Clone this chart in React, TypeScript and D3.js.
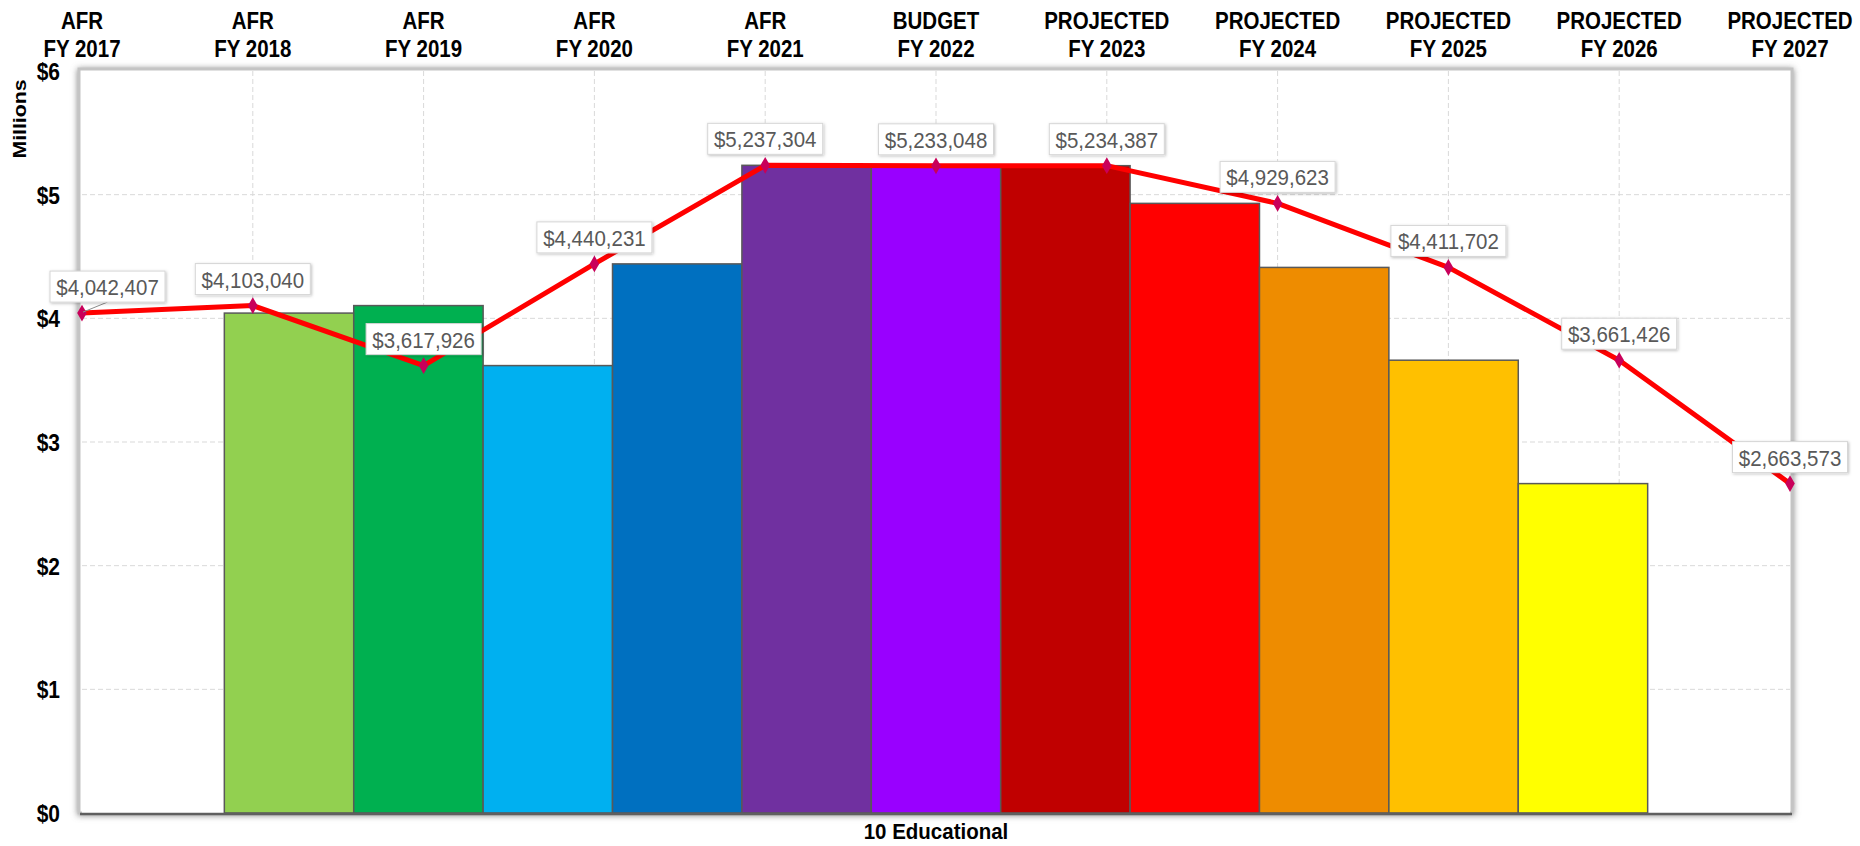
import React from "react";
import * as d3 from "d3";

const stages = ["AFR", "AFR", "AFR", "AFR", "AFR", "BUDGET", "PROJECTED", "PROJECTED", "PROJECTED", "PROJECTED", "PROJECTED"];
const years = ["FY 2017", "FY 2018", "FY 2019", "FY 2020", "FY 2021", "FY 2022", "FY 2023", "FY 2024", "FY 2025", "FY 2026", "FY 2027"];
const values = [4042407, 4103040, 3617926, 4440231, 5237304, 5233048, 5234387, 4929623, 4411702, 3661426, 2663573];
const barColors = ["#92D050", "#00B050", "#00B0F0", "#0070C0", "#7030A0", "#9900FF", "#C00000", "#FF0000", "#EE8C00", "#FFC000", "#FFFF00"];
const category = "10 Educational";
const yTicks = [0, 1, 2, 3, 4, 5, 6];
const yTitle = "Millions";

const W = 1860;
const H = 846;
const FONT = "'Liberation Sans', Arial, Helvetica, sans-serif";

export default function App() {
  const left = 82;
  const right = 1790;
  const top = 71;
  const bottom = 813;

  const y = d3.scaleLinear().domain([0, 6]).range([bottom, top]);
  const xLine = d3.scalePoint<number>().domain(values.map((_, i) => i)).range([left, right]);
  const xCat = d3.scaleBand<string>().domain([category]).range([left, right]).paddingInner(0).paddingOuter(0.1);
  const xBar = d3.scaleBand<number>().domain(values.map((_, i) => i)).range([0, xCat.bandwidth()]).padding(0);

  const lineGen = d3
    .line<number>()
    .x((_, i) => xLine(i) as number)
    .y((v) => y(v / 1e6));

  const diamond = d3.symbol().type(d3.symbolDiamond).size(80)();
  const fmt = (v: number) => "$" + d3.format(",")(v);

  const boxW = 115;
  const boxH = 31;
  const minBoxX = left - 32;

  return (
    <div style={{ position: "fixed", left: 0, top: 0, width: W, height: H, background: "#fff" }}>
      <svg width={W} height={H} style={{ display: "block" }}>
        <defs>
          <filter id="plotShadow" x="-5%" y="-5%" width="110%" height="110%">
            <feDropShadow dx="0" dy="1" stdDeviation="3" floodColor="#7a7a7a" floodOpacity="0.9" />
          </filter>
          <filter id="boxShadow" x="-20%" y="-30%" width="140%" height="160%">
            <feDropShadow dx="1" dy="1" stdDeviation="1.5" floodColor="#000" floodOpacity="0.25" />
          </filter>
        </defs>

        {/* plot area */}
        <rect
          x={left - 3}
          y={top - 2}
          width={right - left + 5}
          height={bottom - top + 2}
          fill="#fff"
          stroke="#c4c4c4"
          strokeWidth={3}
          filter="url(#plotShadow)"
        />
        <rect x={left} y={top} width={right - left} height={bottom - top} fill="#fff" />

        {/* horizontal gridlines */}
        {yTicks.filter((t) => t > 0 && t < 6).map((t) => (
          <line key={"h" + t} x1={left} x2={right} y1={y(t)} y2={y(t)} stroke="#d9d9d9" strokeWidth={1} strokeDasharray="5,3" />
        ))}
        {/* vertical gridlines */}
        {values.map((_, i) =>
          i > 0 && i < values.length - 1 ? (
            <line key={"v" + i} x1={xLine(i)} x2={xLine(i)} y1={top} y2={bottom} stroke="#d9d9d9" strokeWidth={1} strokeDasharray="5,3" />
          ) : null
        )}

        {/* bars */}
        <g transform={`translate(${xCat(category)},0)`}>
          {values.map((v, i) => (
            <rect
              key={"b" + i}
              x={xBar(i)}
              y={y(v / 1e6)}
              width={xBar.bandwidth()}
              height={bottom - y(v / 1e6)}
              fill={barColors[i]}
              stroke="#595959"
              strokeWidth={1.5}
            />
          ))}
        </g>

        {/* x axis line */}
        <line x1={left - 2} x2={right + 2} y1={bottom + 1} y2={bottom + 1} stroke="#5f5f5f" strokeWidth={2.5} />

        {/* y tick labels */}
        {yTicks.map((t) => (
          <text
            key={"yt" + t}
            transform={`translate(60,${y(t) + 9}) scale(1,1.12)`}
            textAnchor="end"
            fontFamily={FONT}
            fontWeight="bold"
            fontSize={21}
            fill="#000"
          >
            {"$" + t}
          </text>
        ))}
        <text
          transform={`translate(26,119) rotate(-90) scale(1.12,1)`}
          textAnchor="middle"
          fontFamily={FONT}
          fontWeight="bold"
          fontSize={19}
          fill="#000"
        >
          {yTitle}
        </text>

        {/* top category labels */}
        {years.map((yr, i) => (
          <g key={"tl" + i}>
            <text
              transform={`translate(${xLine(i)},29) scale(1,1.18)`}
              textAnchor="middle"
              fontFamily={FONT}
              fontWeight="bold"
              fontSize={20.5}
              fill="#000"
            >
              {stages[i]}
            </text>
            <text
              transform={`translate(${xLine(i)},57) scale(1,1.18)`}
              textAnchor="middle"
              fontFamily={FONT}
              fontWeight="bold"
              fontSize={20.5}
              fill="#000"
            >
              {yr}
            </text>
          </g>
        ))}

        {/* bottom category label */}
        <text
          transform={`translate(${(xCat(category) as number) + xCat.bandwidth() / 2},839) scale(1,1.1)`}
          textAnchor="middle"
          fontFamily={FONT}
          fontWeight="bold"
          fontSize={20.5}
          fill="#000"
        >
          {category}
        </text>

        {/* line */}
        <path d={lineGen(values) || ""} fill="none" stroke="#FF0000" strokeWidth={5} strokeLinejoin="round" />
        {values.map((v, i) => (
          <path key={"m" + i} d={diamond || ""} transform={`translate(${xLine(i)},${y(v / 1e6)})`} fill="#C9005A" />
        ))}

        {/* data labels */}
        {values.map((v, i) => {
          const px = xLine(i) as number;
          const py = y(v / 1e6);
          let bx = px - boxW / 2;
          const shifted = bx < minBoxX;
          if (shifted) bx = minBoxX;
          const by = py - 11 - boxH;
          const cx = bx + boxW / 2;
          return (
            <g key={"l" + i}>
              {shifted ? <line x1={cx} y1={by + boxH} x2={px + 1} y2={py - 1} stroke="#8c8c8c" strokeWidth={1} /> : null}
              <rect x={bx} y={by} width={boxW} height={boxH} fill="#fff" stroke="#d6d6d6" strokeWidth={1} filter="url(#boxShadow)" />
              <text
                transform={`translate(${cx},${by + boxH - 7}) scale(1,1.12)`}
                textAnchor="middle"
                fontFamily={FONT}
                fontSize={20.5}
                fill="#595959"
              >
                {fmt(v)}
              </text>
            </g>
          );
        })}
      </svg>
    </div>
  );
}
